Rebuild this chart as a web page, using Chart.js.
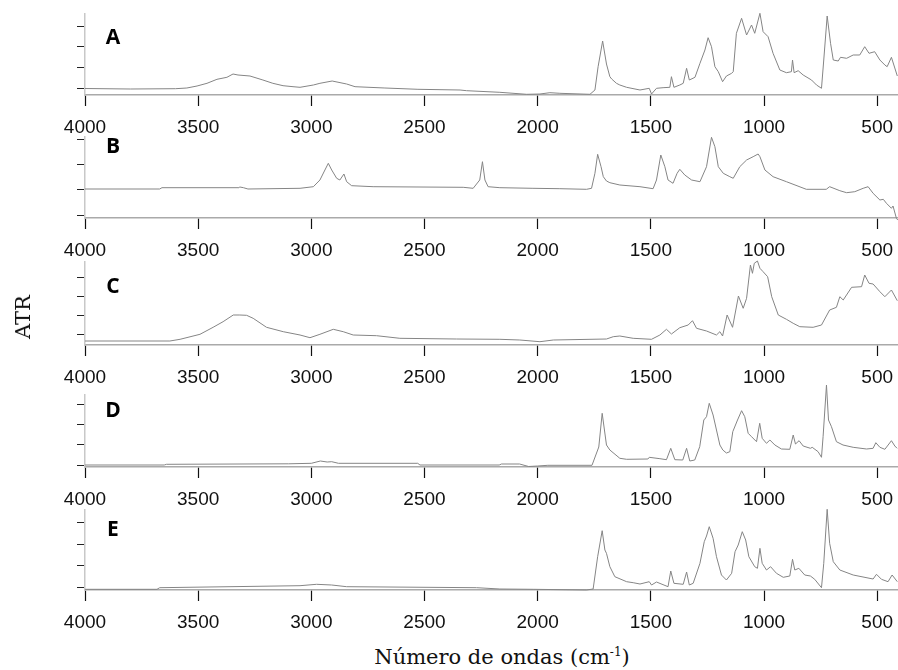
<!DOCTYPE html>
<html lang="es">
<head>
<meta charset="UTF-8">
<title>Espectros ATR</title>
<script src="https://cdn.jsdelivr.net/npm/chart.js"></script>
<style>
  body { margin: 0; background: #fff; }
  #wrap { position: relative; width: 898px; height: 670px; }
  #wrap canvas { position: absolute; left: 0; }
  .ytitle { position: absolute; left: 23px; top: 317px; transform: translate(-50%, -50%) rotate(-90deg);
            font-family: "DejaVu Serif", serif; font-size: 21px; color: #111; white-space: nowrap; }
  .xtitle { position: absolute; left: 502px; top: 657px; transform: translate(-50%, -50%);
            font-family: "DejaVu Serif", serif; font-size: 21px; color: #111; white-space: nowrap; }
  .xtitle sup { font-size: 12px; }
</style>
</head>
<body>
<div id="wrap">
  <canvas id="pA" width="898" height="145"></canvas>
  <canvas id="pB" width="898" height="145"></canvas>
  <canvas id="pC" width="898" height="147"></canvas>
  <canvas id="pD" width="898" height="136"></canvas>
  <canvas id="pE" width="898" height="144"></canvas>
  <div class="ytitle">ATR</div>
  <div class="xtitle">Número de ondas (cm<sup>-1</sup>)</div>
</div>

<script>
// eje x (numero de ondas, cm-1)
const xTicks = [4000, 3500, 3000, 2500, 2000, 1500, 1000, 500];

// A
const waveA = [4000, 3800, 3600, 3550, 3505, 3461, 3417, 3373, 3346, 3324,
  3271, 3214, 3170, 3125, 3081, 3050, 2991, 2962, 2908, 2844,
  2807, 2675, 2529, 2343, 2314, 2167, 2049, 1990, 1946, 1902,
  1769, 1747, 1733, 1713, 1696, 1681, 1673, 1652, 1637, 1607,
  1548, 1507, 1497, 1475, 1446, 1416, 1409, 1398, 1372, 1357,
  1342, 1330, 1305, 1283, 1261, 1247, 1232, 1217, 1202, 1183,
  1166, 1143, 1136, 1122, 1099, 1077, 1055, 1041, 1018, 1004,
  982, 960, 930, 901, 879, 874, 867, 849, 827, 790,
  768, 746, 736, 721, 706, 694, 672, 662, 635, 606,
  577, 555, 536, 511, 488, 466, 456, 437, 411];
const atrA = [6.5, 6, 6.3, 7, 9, 11.7, 15.7, 17.7, 21, 20,
  19, 15, 11.7, 9.3, 8.3, 7.7, 10, 11.7, 14, 11,
  8.3, 7, 5.7, 5, 4.3, 2.7, 0.7, 1, 2.3, 1.7,
  0.7, 5, 28.3, 54, 31, 18.3, 16, 11.7, 10, 7.7,
  5, 6.7, 1, 6.7, 7.3, 7.7, 18.3, 7.7, 10, 11.7,
  26.7, 15, 17.7, 31.7, 45, 57.3, 48.3, 28.3, 23.3, 13.3,
  19, 21.7, 23.3, 61.7, 76.7, 60, 70, 61.7, 81.7, 63.3,
  58.3, 41.7, 25, 22.3, 23.3, 35, 22.3, 24.3, 20, 15,
  10, 6.7, 35, 79, 51.7, 35, 34, 37.7, 36.7, 40,
  40, 48.3, 41.7, 43.3, 35, 30, 28.3, 37.7, 19];

// B
const waveB = [4000, 3670, 3660, 3320, 3316, 3300, 3280, 3050, 2991, 2962,
  2940, 2925, 2910, 2888, 2874, 2856, 2844, 2822, 2727, 2329,
  2285, 2256, 2244, 2233, 2219, 2167, 2021, 1902, 1784, 1762,
  1747, 1735, 1720, 1710, 1696, 1681, 1637, 1548, 1490, 1475,
  1456, 1438, 1424, 1402, 1384, 1372, 1350, 1320, 1283, 1254,
  1232, 1217, 1202, 1180, 1151, 1136, 1107, 1077, 1048, 1026,
  1018, 996, 960, 901, 813, 725, 710, 665, 635, 599,
  562, 540, 518, 488, 473, 459, 437, 430, 415, 409];
const atrB = [29, 29, 30.3, 30.3, 31, 30.3, 29, 29.7, 31.3, 38,
  48, 54.7, 48, 39.7, 38, 44, 36.3, 32.3, 31.3, 30.7,
  29.7, 38, 56.3, 38, 31.3, 30.3, 29.7, 29.3, 28.7, 29.7,
  44.7, 63.7, 51.3, 41.3, 37, 35.3, 33, 31.3, 29.3, 38,
  63, 51.3, 38, 34.7, 44.7, 48.7, 43, 38, 36.3, 51.3,
  80.7, 71.3, 51.3, 44.7, 41.3, 39.7, 51.3, 58, 61.3, 64,
  61.3, 48, 41.3, 36.3, 28.7, 28.7, 31.3, 27.3, 25.3, 26.3,
  29.7, 31.3, 24.7, 18, 18.7, 14.7, 9.7, 12, -0.3, -2];

// C
const waveC = [4000, 3625, 3580, 3492, 3434, 3390, 3345, 3316, 3286, 3257,
  3198, 3124, 3050, 3006, 2962, 2903, 2859, 2815, 2712, 2609,
  2358, 2167, 2079, 1990, 1931, 1696, 1666, 1637, 1578, 1497,
  1460, 1431, 1409, 1372, 1335, 1316, 1298, 1254, 1210, 1195,
  1183, 1163, 1139, 1113, 1092, 1077, 1060, 1051, 1043, 1029,
  1018, 1004, 984, 966, 937, 901, 871, 842, 783, 746,
  710, 680, 665, 650, 613, 569, 555, 536, 518, 488,
  466, 437, 411];
const atrC = [4, 4, 5.7, 10.7, 17.7, 23.3, 30, 30, 29.7, 26.7,
  17.7, 13.3, 10, 7.3, 10.7, 15.7, 13.3, 10, 9.3, 6.7,
  6, 5.7, 5, 3.3, 5, 6, 8.3, 9, 6.7, 5.7,
  10, 15.7, 11, 17.3, 20, 24.3, 16.7, 14, 10, 13.3,
  9, 30, 17.7, 49, 36.7, 46.7, 80, 71.7, 81.7, 84,
  76.7, 73.3, 68.3, 48.3, 30, 25.7, 21.7, 18.3, 17.7, 20,
  35, 37.7, 48.3, 45, 57.7, 58.3, 70, 61.7, 61, 53.3,
  48.3, 55, 44.3];

// D
const waveD = [4000, 3650, 3640, 3100, 3000, 2960, 2930, 2910, 2880, 2530,
  2520, 2170, 2160, 2080, 2040, 2000, 1955, 1760, 1730, 1715,
  1696, 1681, 1637, 1607, 1513, 1507, 1460, 1431, 1412, 1394,
  1359, 1342, 1328, 1306, 1284, 1266, 1254, 1242, 1225, 1210,
  1195, 1182, 1166, 1151, 1138, 1117, 1099, 1085, 1070, 1055,
  1033, 1019, 1008, 989, 974, 952, 923, 886, 871, 861,
  845, 827, 795, 787, 761, 746, 739, 724, 715, 702,
  680, 651, 606, 547, 518, 506, 488, 466, 437, 422,
  412];
const atrD = [2, 2, 2.7, 3.2, 3.7, 6, 5, 5.3, 3.7, 3.7,
  2, 2, 3, 3, 0.5, 1, 1.7, 1.7, 20, 53.7,
  22, 17, 8.7, 7.7, 8, 9.7, 8.3, 7.3, 18.7, 7.3,
  7, 18.7, 6, 7, 20.3, 47, 50.3, 63.7, 52, 37,
  22, 17, 14, 15.3, 35.3, 47, 56.3, 50.3, 33.7, 30.3,
  25.3, 43.7, 28.7, 23.7, 27, 22, 18, 17.7, 32, 23,
  26.3, 21, 18.7, 19.7, 15.3, 9.7, 30.3, 82, 47, 40.3,
  25.3, 22, 19.7, 18, 18.7, 24.3, 19.7, 17.7, 26.3, 21,
  18.7];

// E
const waveE = [4000, 3682, 3670, 3050, 2977, 2910, 2844, 2270, 2167, 2020,
  1784, 1755, 1735, 1715, 1703, 1696, 1681, 1659, 1607, 1578,
  1548, 1507, 1497, 1475, 1424, 1412, 1398, 1357, 1342, 1330,
  1313, 1283, 1264, 1254, 1242, 1225, 1210, 1188, 1166, 1143,
  1128, 1114, 1096, 1081, 1067, 1041, 1029, 1018, 1008, 989,
  971, 945, 915, 886, 874, 864, 846, 820, 795, 776,
  746, 736, 721, 710, 694, 665, 606, 518, 503, 481,
  452, 434, 411];
const atrE = [0.7, 0.7, 2.3, 4.3, 5.7, 5, 3.3, 2.3, 1, 0.7,
  0, 1, 33.3, 59.3, 40, 36.7, 23.3, 13.3, 8.3, 7.3,
  6, 8.3, 5, 8, 3.3, 19, 6.7, 5.7, 18, 5,
  6.7, 26.7, 48.3, 54, 63.3, 51.7, 33.3, 15, 10, 16.7,
  38.3, 45, 58.3, 50, 33.3, 23.3, 21.7, 41.7, 26.7, 20,
  23.3, 16.7, 12.7, 14, 30.7, 20, 21.7, 15, 14, 10.7,
  2.3, 26.7, 80.7, 46.7, 28.3, 20, 15, 11, 15.7, 10.7,
  8.3, 15, 8.3];

const panels = [
  { id: 'pA', name: 'A', wave: waveA, atr: atrA, top: 0,   ymax: 81, yTicks: [7, 28, 49, 69],  letterDy: 24 },
  { id: 'pB', name: 'B', wave: waveB, atr: atrB, top: 123, ymax: 81, yTicks: [3, 29, 54, 79],  letterDy: 10 },
  { id: 'pC', name: 'C', wave: waveC, atr: atrC, top: 248, ymax: 83, yTicks: [11, 30, 49, 68], letterDy: 25.5 },
  { id: 'pD', name: 'D', wave: waveD, atr: atrD, top: 381, ymax: 72, yTicks: [2, 23, 43, 63],  letterDy: 16.5 },
  { id: 'pE', name: 'E', wave: waveE, atr: atrE, top: 496, ymax: 80, yTicks: [3, 25, 46, 68],  letterDy: 20.5 }
];

const panelLetter = {
  id: 'panelLetter',
  afterDraw(chart, args, opts) {
    const ctx = chart.ctx;
    ctx.save();
    ctx.font = 'bold 21px "Open Sans"';
    ctx.fillStyle = '#000';
    ctx.textAlign = 'center';
    ctx.textBaseline = 'middle';
    ctx.fillText(opts.text, chart.chartArea.left + 28, chart.chartArea.top + opts.dy);
    ctx.restore();
  }
};

panels.forEach(p => {
  const cv = document.getElementById(p.id);
  cv.style.top = p.top + 'px';
  new Chart(cv.getContext('2d'), {
    type: 'line',
    data: {
      datasets: [{
        label: p.name,
        data: p.wave.map((w, i) => ({ x: w, y: p.atr[i] })),
        borderColor: '#858585',
        borderWidth: 1,
        pointRadius: 0,
        tension: 0,
        clip: false
      }]
    },
    options: {
      responsive: false,
      animation: false,
      devicePixelRatio: 1,
      layout: { padding: { top: 14, left: 0, right: 0, bottom: 0 } },
      plugins: {
        legend: { display: false },
        tooltip: { enabled: false },
        panelLetter: { text: p.name, dy: p.letterDy }
      },
      scales: {
        x: {
          type: 'linear',
          reverse: true,
          min: 408,
          max: 4000,
          afterBuildTicks: s => { s.ticks = xTicks.map(v => ({ value: v })); },
          afterFit: s => { s.height = 50; s.paddingLeft = 0; s.paddingRight = 0; },
          grid: { drawOnChartArea: false, tickLength: 11, tickColor: '#111', tickWidth: 1.2 },
          border: { color: '#aaaaaa', width: 1.5 },
          ticks: {
            maxRotation: 0,
            autoSkip: false,
            padding: 10,
            color: '#111',
            font: { family: '"Liberation Sans", Arial', size: 19 },
            callback: v => String(v)
          }
        },
        y: {
          min: 0,
          max: p.ymax,
          afterBuildTicks: s => { s.ticks = p.yTicks.map(v => ({ value: v })); },
          afterFit: s => { s.width = 85; },
          grid: { drawOnChartArea: false, tickLength: 8, tickColor: '#222' },
          border: { color: '#c8c8c8', width: 1.5 },
          ticks: { display: false }
        }
      }
    },
    plugins: [panelLetter]
  });
});
</script>
</body>
</html>
